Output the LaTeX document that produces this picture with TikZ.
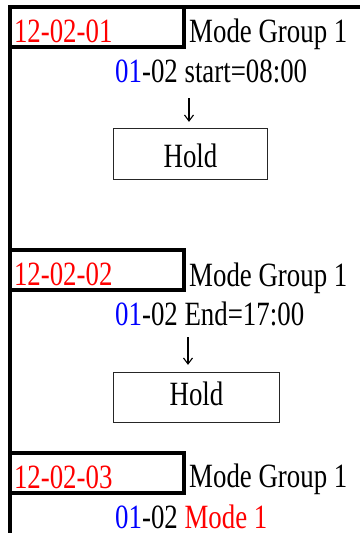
\documentclass[tikz,border=0pt]{standalone}
\usepackage{fontspec}
\setmainfont[FakeStretch=0.79]{Liberation Serif}
\usetikzlibrary{arrows.meta}
\begin{document}
\begin{tikzpicture}[x=1pt,y=-1pt,
  font=\fontsize{34pt}{40pt}\selectfont,
  frame/.style={line width=4pt},
  datebox/.style={draw, line width=4pt, outer sep=0pt, anchor=north west,
    minimum width=173.5pt, minimum height=40pt, inner xsep=4pt, inner ysep=0pt,
    text width=165.5pt, align=left, text height=30pt, text depth=0pt, text=red},
  txt/.style={inner sep=0pt, anchor=base west},
  holdbox/.style={draw=black!85, line width=1.2pt, inner sep=0pt},
  arr/.style={line width=1.1pt, -{Straight Barb[length=6pt,width=9pt]}}
]
\useasboundingbox (0,0) rectangle (359,533);
% date boxes
\node[datebox] (d1) at (10,7) {12-02-01};
\node[datebox] (d2) at (10,250) {12-02-02};
\node[datebox] (d3) at (10,453) {12-02-03};
% frame lines
\draw[frame] (d1.north east) -- (361,7);
\draw[frame] (d1.north west) -- (10,535);
% mode group labels
\node[txt] (g1) at (189,42) {Mode Group 1};
\node[txt] (g2) at (189,286) {Mode Group 1};
\node[txt] (g3) at (189,487) {Mode Group 1};
% rows
\node[txt] (r1) at (115,82) {\textcolor{blue}{01}-02 start=08:00};
\node[txt] (r2) at (115,325) {\textcolor{blue}{01}-02 End=17:00};
\node[txt] (r3) at (115,528) {\textcolor{blue}{01}-02 \textcolor{red}{Mode 1}};
% hold boxes
\node[holdbox, minimum width=154pt, minimum height=51pt, text height=26pt, text depth=0pt] (h1) at (190.5,154) {Hold};
\node[holdbox, minimum width=166pt, minimum height=50pt, text height=23pt, text depth=8pt] (h2) at (196.5,397.5) {Hold};
% arrows
\coordinate (ax1) at (189,0);
\coordinate (ax2) at (188,0);
\draw[arr, shorten <=16pt, shorten >=6pt] (r1.base -| ax1) -- (h1.north -| ax1);
\draw[arr, shorten <=12pt, shorten >=7pt] (r2.base -| ax2) -- (h2.north -| ax2);
\end{tikzpicture}
\end{document}
